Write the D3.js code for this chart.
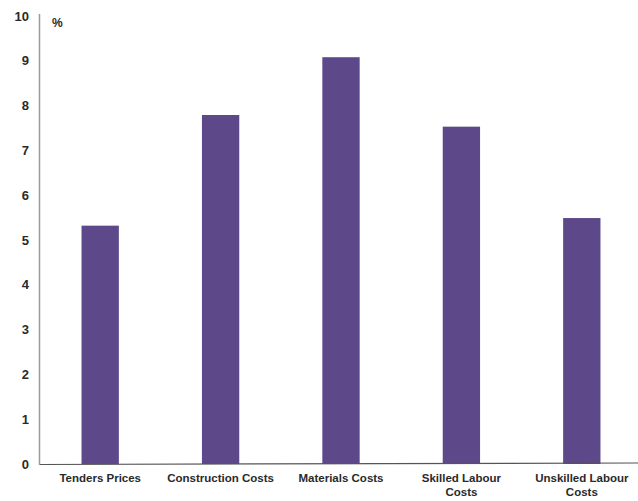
<!DOCTYPE html>
<html><head><meta charset="utf-8">
<script src="https://cdn.jsdelivr.net/npm/d3@7"></script>
<style>
body{margin:0;background:#fff;}
text{font-family:"Liberation Sans Narrow","Arial Narrow","Liberation Sans",Arial,sans-serif;font-weight:bold;fill:#2a2a2a;}
</style></head>
<body><svg id="c" width="638" height="501"></svg>
<script>
const categories = [["Tenders Prices"],["Construction Costs"],["Materials Costs"],["Skilled Labour","Costs"],["Unskilled Labour","Costs"]];
const values = [5.32, 7.79, 9.08, 7.53, 5.49];
const yTicks = [0,1,2,3,4,5,6,7,8,9,10];
const unit = "%";

const svg = d3.select("#c");
const x = d3.scaleBand().domain(d3.range(categories.length)).range([40, 642]).paddingInner(0.69).paddingOuter(0.345);
const y = d3.scaleLinear().domain([0,10]).range([464, 16]);

// y axis
svg.append("line").attr("x1",39.5).attr("x2",39.5).attr("y1",14).attr("y2",465).attr("stroke","#9a9a9a").attr("stroke-width",1.5);
svg.append("g").selectAll("text").data(yTicks).join("text")
  .attr("x",29).attr("y",d=>y(d)).attr("dy","0.36em").attr("text-anchor","end")
  .attr("font-size",13).text(d=>d);
svg.append("text").attr("x",52).attr("y",27).attr("font-size",12).text(unit);

// bars
svg.append("g").selectAll("rect").data(values).join("rect")
  .attr("x",(d,i)=>x(i)).attr("width",x.bandwidth())
  .attr("y",d=>y(d)).attr("height",d=>y(0)-y(d))
  .attr("fill","#5d4889");

// baseline
svg.append("line").attr("x1",40).attr("x2",638).attr("y1",464.5).attr("y2",463).attr("stroke","#555").attr("stroke-width",1.2);

// category labels
const lab = svg.append("g").selectAll("text").data(categories).join("text")
  .attr("text-anchor","middle").attr("font-size",11.5)
  .attr("transform",(d,i)=>`translate(${x(i)+x.bandwidth()/2},482)`);
lab.selectAll("tspan").data(d=>d).join("tspan").attr("x",0).attr("dy",(d,j)=>j?13.5:0).text(d=>d);
</script></body></html>
